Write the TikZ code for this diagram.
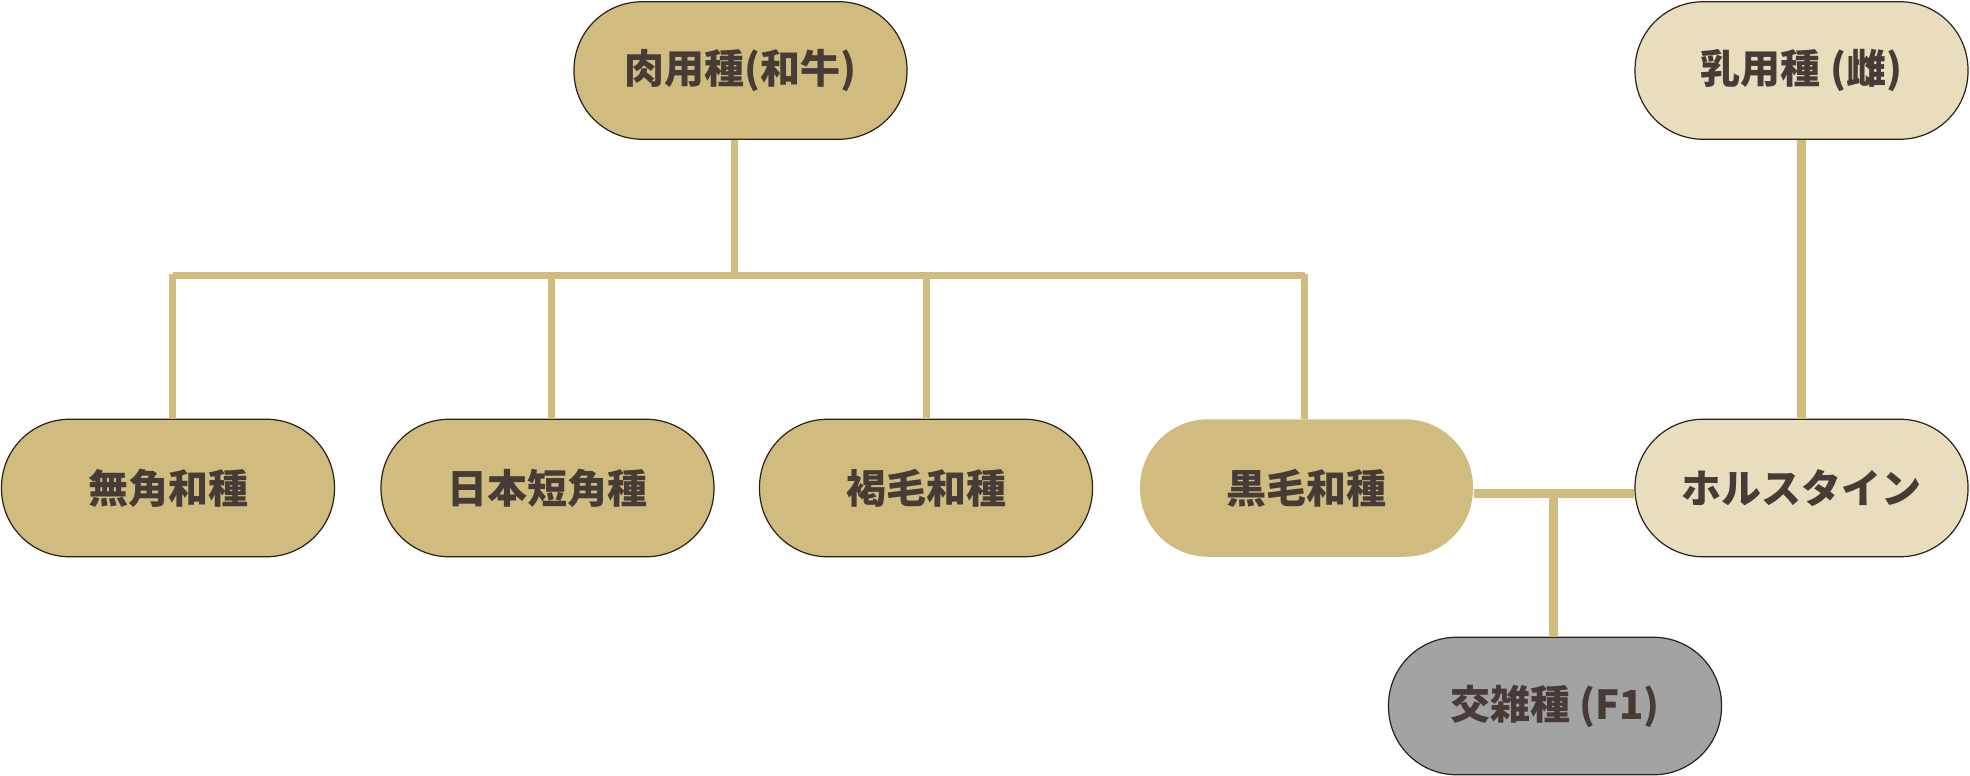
\documentclass[tikz,border=0pt]{standalone}
\usepackage{fontspec}
\newfontfamily\jp{Noto Sans CJK JP}
\usetikzlibrary{positioning, calc}
\definecolor{cgold}{HTML}{CFBC7E}
\definecolor{cbeige}{HTML}{E8DEBE}
\definecolor{cgrey}{HTML}{A3A3A3}
\definecolor{cink}{HTML}{463B36}
\definecolor{cedge}{HTML}{2A2119}
\tikzset{
  every picture/.style={x=0.5pt, y=-0.5pt},
  breed/.style={fill=#1, draw=cedge, line width=0.6pt, rounded corners=34pt, minimum width=166.5pt, minimum height=68.75pt, inner sep=0pt, text=cink, font=\jp\bfseries\fontsize{20}{24}\selectfont},
  breed/.default=cgold,
  link/.style={draw=cgold, line width=3.5pt},
  crossline/.style={draw=cgold, line width=4.5pt},
}

\begin{document}
\begin{tikzpicture}
  \useasboundingbox (0,0) rectangle (1970,776);
  % top row
  \node[breed] (meat) at (740.5,70.5) {肉用種(和牛)};
  \node[breed=cbeige] (dairy) at (1801.5,70.5) {乳用種 (雌)};
  % second row
  \node[breed] (mukaku) at (168,488) {無角和種};
  \node[breed] (tankaku) at (547.5,488) {日本短角種};
  \node[breed] (kasshoku) at (926,488) {褐毛和種};
  \node[breed, draw=none] (kuroge) at (1306.5,488) {黒毛和種};
  \node[breed=cbeige] (holstein) at (1801.5,488) {ホルスタイン};
  \node[breed=cgrey] (fone) at (1555,706) {交雑種 (F1)};
  % wagyu tree
  \coordinate (hub) at (734,275.5);
  \coordinate (busL) at ($(mukaku.north |- hub)+(4.5,0)$);
  \coordinate (busR) at ($(kuroge.north |- hub)+(-2,0)$);
  \draw[link] (meat.south -| hub) -- (hub);
  \draw[link] (busL) -- (busR);
  \foreach \n/\dx in {mukaku/4.5, tankaku/4, kasshoku/0, kuroge/-2}
    \draw[link] ($(\n.north)+(\dx,0)$) -- ($(\n.north |- hub)+(\dx,-1.75)$);
  % dairy and cross
  \draw[crossline] (dairy.south) -- (holstein.north);
  \coordinate (mix) at (1553.5,493.5);
  \draw[crossline] (kuroge.east |- mix) -- (holstein.west |- mix);
  \draw[crossline] (mix) -- (fone.north -| mix);
\end{tikzpicture}
\end{document}
